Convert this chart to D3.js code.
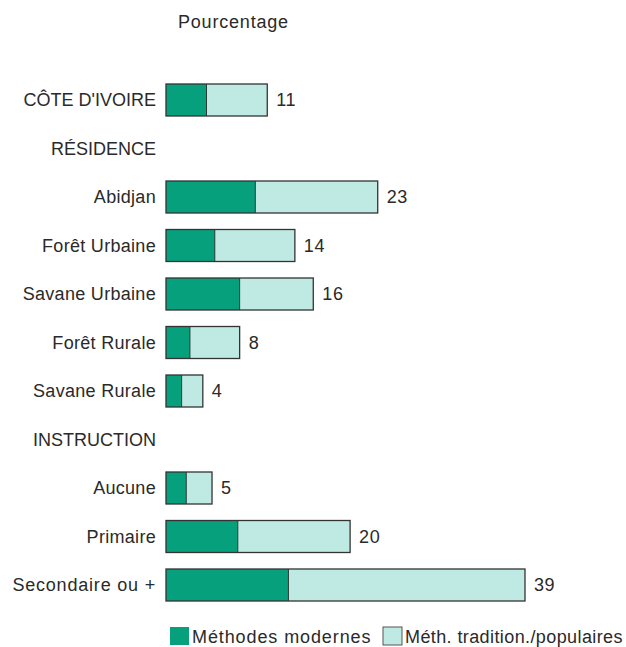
<!DOCTYPE html>
<html>
<head>
<meta charset="utf-8">
<script src="https://cdn.jsdelivr.net/npm/d3@7"></script>
<style>
  html, body { margin: 0; padding: 0; background: #fff; }
  svg { display: block; font-family: "Liberation Sans", Arial, sans-serif; }
</style>
</head>
<body>
<svg id="chart" width="626" height="647"></svg>
<script>
// Rows in display order (section headings have no bar)
const rowLabels = ["CÔTE D'IVOIRE", "RÉSIDENCE", "Abidjan", "Forêt Urbaine", "Savane Urbaine",
  "Forêt Rurale", "Savane Rurale", "INSTRUCTION", "Aucune", "Primaire", "Secondaire ou +"];

// Bars: total use and the share of modern methods (percent)
const barCategories = ["CÔTE D'IVOIRE", "Abidjan", "Forêt Urbaine", "Savane Urbaine",
  "Forêt Rurale", "Savane Rurale", "Aucune", "Primaire", "Secondaire ou +"];
const totalValues = [11, 23, 14, 16, 8, 4, 5, 20, 39];
const modernValues = [4.4, 9.7, 5.3, 8.0, 2.6, 1.7, 2.2, 7.8, 13.3];

const seriesNames = ["Méthodes modernes", "Méth. tradition./populaires"];
const seriesColors = ["#06a07c", "#bfeae3"];

const svg = d3.select("#chart");
const textColor = "#2a2a2a";

const x = d3.scaleLinear().domain([0, 39]).range([166, 525]);
const y = d3.scalePoint().domain(rowLabels).range([100, 585]);
const barH = 32;

// Title
svg.append("text")
  .attr("x", 178).attr("y", 28)
  .attr("font-size", 18).attr("fill", textColor)
  .attr("letter-spacing", 0.8)
  .text("Pourcentage");

// Row labels; upper-case headings are set tighter than the mixed-case names
const isCaps = d => d === d.toUpperCase();
svg.append("g").selectAll("text")
  .data(rowLabels)
  .join("text")
  .attr("x", 156)
  .attr("y", d => y(d) + 6)
  .attr("text-anchor", "end")
  .attr("font-size", 18)
  .attr("letter-spacing", d => isCaps(d) ? 0 : (d === "Secondaire ou +" ? 0.8 : 0.3))
  .attr("fill", textColor)
  .text(d => d);

const bars = barCategories.map((c, i) => ({ c, total: totalValues[i], modern: modernValues[i] }));

const g = svg.append("g");
// Traditional/popular part spans the full bar, modern part drawn on top
g.selectAll("rect.trad")
  .data(bars)
  .join("rect")
  .attr("class", "trad")
  .attr("x", x(0))
  .attr("y", d => y(d.c) - barH / 2)
  .attr("width", d => x(d.total) - x(0))
  .attr("height", barH)
  .attr("fill", seriesColors[1]);

g.selectAll("rect.mod")
  .data(bars)
  .join("rect")
  .attr("class", "mod")
  .attr("x", x(0))
  .attr("y", d => y(d.c) - barH / 2)
  .attr("width", d => x(d.modern) - x(0))
  .attr("height", barH)
  .attr("fill", seriesColors[0]);

g.selectAll("line.split")
  .data(bars)
  .join("line")
  .attr("class", "split")
  .attr("x1", d => x(d.modern)).attr("x2", d => x(d.modern))
  .attr("y1", d => y(d.c) - barH / 2).attr("y2", d => y(d.c) + barH / 2)
  .attr("stroke", "#2b3a35").attr("stroke-width", 1);

g.selectAll("rect.outline")
  .data(bars)
  .join("rect")
  .attr("class", "outline")
  .attr("x", x(0))
  .attr("y", d => y(d.c) - barH / 2)
  .attr("width", d => x(d.total) - x(0))
  .attr("height", barH)
  .attr("fill", "none")
  .attr("stroke", "#333")
  .attr("stroke-width", 1.3);

// Value labels
g.selectAll("text.val")
  .data(bars)
  .join("text")
  .attr("class", "val")
  .attr("x", d => x(d.total) + 9)
  .attr("y", d => y(d.c) + 6)
  .attr("font-size", 18)
  .attr("letter-spacing", 0.6)
  .attr("fill", textColor)
  .text(d => d.total);

// Legend
const legend = svg.append("g");
const legendItems = [
  { name: seriesNames[0], color: seriesColors[0], x: 170, spacing: 0.9 },
  { name: seriesNames[1], color: seriesColors[1], x: 383, spacing: 0.4 }
];
legendItems.forEach((it, i) => {
  legend.append("rect")
    .attr("x", it.x).attr("y", 627)
    .attr("width", 19).attr("height", 18)
    .attr("fill", it.color)
    .attr("stroke", i === 1 ? "#555" : "none")
    .attr("stroke-width", 1);
  legend.append("text")
    .attr("x", it.x + 22).attr("y", 643)
    .attr("font-size", 18).attr("fill", textColor)
    .attr("letter-spacing", it.spacing)
    .text(it.name);
});
</script>
</body>
</html>
